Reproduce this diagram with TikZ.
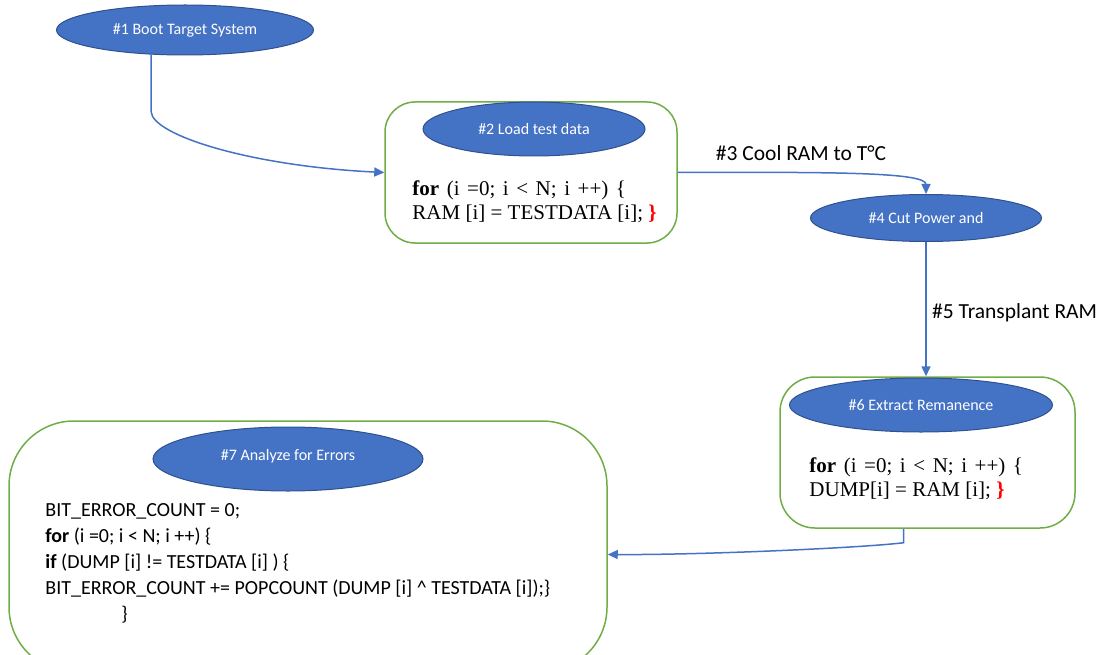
\documentclass[tikz,border=0pt]{standalone}
\usepackage{fontspec}
\setmainfont{Carlito}
\newfontfamily\codefont{Liberation Serif}
\usetikzlibrary{shapes.geometric,arrows.meta,positioning,calc}
\definecolor{stageblue}{HTML}{4472C4}
\definecolor{stageedge}{HTML}{2F528F}
\definecolor{framegreen}{HTML}{70AD47}

\tikzset{
  stage/.style={ellipse, draw=stageedge, line width=1pt, fill=stageblue, text=white,
    inner sep=0pt, font=\fontsize{16}{18}\selectfont},
  frame/.style={draw=framegreen, line width=1.5pt, rounded corners=#1, inner sep=0pt},
  flow/.style={draw=stageblue, line width=1.5pt, -{Triangle[length=10pt,width=9pt]}},
  serifcode/.style={anchor=west, align=left, inner sep=0pt,
    font=\codefont\fontsize{21}{23.5}\selectfont},
  sanscode/.style={anchor=west, align=left, inner sep=0pt,
    font=\fontsize{20}{26}\selectfont},
  steplabel/.style={inner sep=0pt, font=\fontsize{21.5}{24}\selectfont},
}
\newcommand{\wideline}[1]{{\spaceskip=0.36em\relax #1}}

\begin{document}
\begin{tikzpicture}[x=1pt, y=-1pt]
    \useasboundingbox (0,0) rectangle (1110,655);
    \clip (0,0) rectangle (1110,655);

    % frames
    \node[frame=30pt, minimum width=292pt, minimum height=141pt] (b2) at (531,172.5) {};
    \node[frame=35pt, minimum width=295pt, minimum height=151pt] (b6) at (927.5,452.5) {};
    \node[frame=65pt, minimum width=598pt, minimum height=251pt] (b7) at (308,546.5) {};

    % stages
    \node[stage, minimum width=257pt, minimum height=50pt] (e1) at (185,30) {\#1 Boot Target System};
    \node[stage, minimum width=222pt, minimum height=54pt] (e2) at (534,129) {\#2 Load test data};
    \node[stage, minimum width=231pt, minimum height=47pt] (e4) at (926,218) {\#4 Cut Power and};
    \node[stage, minimum width=263pt, minimum height=54pt] (e6) at (921,405) {\#6 Extract Remanence};
    \node[stage, minimum width=270pt, minimum height=64pt] (e7) at (288,459) {\raisebox{8pt}{\#7 Analyze for Errors}};

    % code
    \node[serifcode] (c2) at ($(b2.west)+(28,29)$) {\wideline{\textbf{for} (i =0; i < N; i ++) \{}\\
      RAM [i] = TESTDATA [i]; \textcolor{red}{\textbf{\}}}};
    \node[serifcode] (c6) at ($(b6.west)+(30,26)$) {\wideline{\textbf{for} (i =0; i < N; i ++) \{}\\
      DUMP[i] = RAM [i]; \textcolor{red}{\textbf{\}}}};
    \node[sanscode] (c7) at ($(b7.west)+(37,16.5)$) {BIT\_ERROR\_COUNT = 0;\\
      \textbf{for} (i =0; i < N; i ++) \{\\
      \textbf{if} (DUMP [i] != TESTDATA [i] ) \{\\
      BIT\_ERROR\_COUNT += POPCOUNT (DUMP [i] \textasciicircum{} TESTDATA [i]);\}\\
      \hspace*{76pt}\}};

    % step labels
    \node[steplabel] (l3) at (801,153) {\#3 Cool RAM to T°C};
    \node[steplabel, anchor=west] (l5) at (932,313) {\#5 Transplant RAM};

    \draw[flow] (e1.216) -- ++(0,57) .. controls (152,135) and (250,166) .. (b2.west);
    \draw[flow] (b2.east) .. controls (830,172) and (926,172) .. (e4.north);
    \draw[flow] (e4.south) -- (e4.south |- b6.north);
    \draw[flow] ([xshift=-24pt]b6.south) -- ++(0,14) .. controls (860,548) and (700,555) .. ([yshift=-8pt]b7.east);
  \end{tikzpicture}
\end{document}
